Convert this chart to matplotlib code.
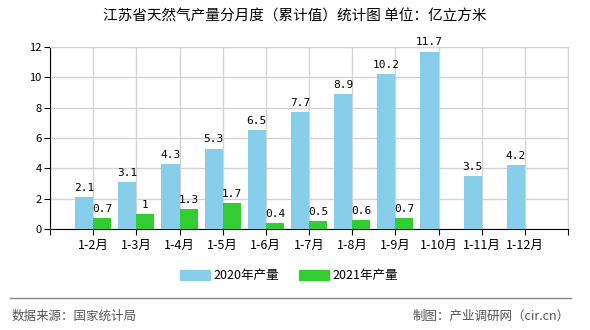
import matplotlib
matplotlib.use('Agg')
import matplotlib.pyplot as plt
import numpy as np
from matplotlib.patches import Patch

plt.rcParams['font.family'] = ['Noto Sans CJK SC', 'DejaVu Sans']

months = ['1-2月', '1-3月', '1-4月', '1-5月', '1-6月', '1-7月',
          '1-8月', '1-9月', '1-10月', '1-11月', '1-12月']
prod_2020 = [2.1, 3.1, 4.3, 5.3, 6.5, 7.7, 8.9, 10.2, 11.7, 3.5, 4.2]
prod_2021 = [0.7, 1, 1.3, 1.7, 0.4, 0.5, 0.6, 0.7]
lbl_2020 = ['2.1', '3.1', '4.3', '5.3', '6.5', '7.7', '8.9', '10.2', '11.7', '3.5', '4.2']
lbl_2021 = ['0.7', '1', '1.3', '1.7', '0.4', '0.5', '0.6', '0.7']

c_2020 = '#87CEEB'
c_2021 = '#33CC33'

fig = plt.figure(figsize=(5.9, 3.3), dpi=100)
ax = fig.add_axes([50/590, 1-229/330, 518/590, 182/330])

x = np.arange(len(months))
w = 0.42
b1 = ax.bar(x[:len(prod_2020)] - w/2, prod_2020, w, color=c_2020, zorder=3)
b2 = ax.bar(x[:len(prod_2021)] + w/2, prod_2021, w, color=c_2021, zorder=3)

for rect, t in zip(b1, lbl_2020):
    ax.annotate(t, (rect.get_x() + rect.get_width()/2, rect.get_height()),
                xytext=(0, 3), textcoords='offset points', ha='center', va='bottom',
                fontsize=8, family='DejaVu Sans Mono', zorder=4)
for rect, t in zip(b2, lbl_2021):
    ax.annotate(t, (rect.get_x() + rect.get_width()/2, rect.get_height()),
                xytext=(0, 3), textcoords='offset points', ha='center', va='bottom',
                fontsize=8, family='DejaVu Sans Mono', zorder=4)

ax.set_xlim(-1, len(months))
ax.set_ylim(0, 12)
ax.set_yticks(np.arange(0, 13, 2))
ax.set_xticks(np.arange(-1, len(months) + 1))
ax.set_xticklabels([''] + months + [''])
ax.tick_params(axis='x', length=4, labelsize=9, pad=3)
ax.tick_params(axis='y', length=4, labelsize=8, pad=2)
ax.grid(True, color='#d3d3d3', linewidth=1, zorder=0)

for s in ['top', 'right']:
    ax.spines[s].set_color('#d3d3d3')
ax.spines['left'].set_color('black')
ax.spines['bottom'].set_color('black')

fig.text(0.5, 1-17/330, '江苏省天然气产量分月度（累计值）统计图 单位：亿立方米',
         ha='center', va='center', fontsize=10.5)

handles = [Patch(color=c_2020, label='2020年产量'), Patch(color=c_2021, label='2021年产量')]
fig.legend(handles=handles, loc='center', bbox_to_anchor=(0.49, 1-276/330), ncol=2,
           frameon=False, fontsize=9, handlelength=2.4, handleheight=0.9,
           columnspacing=1.6, handletextpad=0.3)

fig.add_artist(plt.Line2D([10/590, 571/590], [1-298/330, 1-298/330],
                          transform=fig.transFigure, color='#888888', linewidth=1))
fig.text(12/590, 1-316/330, '数据来源：国家统计局', ha='left', va='center',
         fontsize=9, color='#555555')
fig.text(570/590, 1-316/330, '制图：产业调研网（cir.cn）', ha='right', va='center',
         fontsize=9, color='#555555')

fig.savefig('out.png', dpi=100)
